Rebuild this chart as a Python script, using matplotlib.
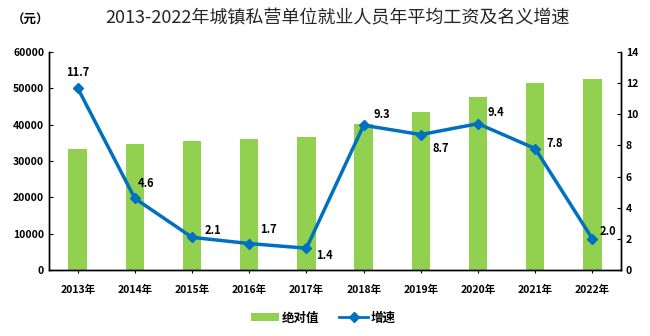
import matplotlib.pyplot as plt
from matplotlib.lines import Line2D
from matplotlib.patches import Patch

plt.rcParams['font.family'] = ['Noto Sans CJK SC', 'DejaVu Sans']

# data
years = ["2013年", "2014年", "2015年", "2016年", "2017年",
         "2018年", "2019年", "2020年", "2021年", "2022年"]
wages = [33300, 34700, 35500, 36050, 36600, 40200, 43500, 47600, 51450, 52550]
growth = [11.7, 4.6, 2.1, 1.7, 1.4, 9.3, 8.7, 9.4, 7.8, 2.0]

# label offsets in points (dx, dy) for each growth label
label_offsets = [(0, 11), (8, 11), (15, 5), (14, 10), (13, -5),
                 (13, 8), (14, -10), (13, 8), (14, 4), (11, 5)]

BAR_COLOR = "#92D050"
LINE_COLOR = "#0070C0"

fig = plt.figure(figsize=(6.5, 3.36), dpi=100)
ax = fig.add_axes([0.0754, 0.1964, 0.88, 0.6486])
ax2 = ax.twinx()

x = list(range(len(years)))
ax.bar(x, wages, width=0.32, color=BAR_COLOR, zorder=2)
ax.set_ylim(0, 60000)
ax.set_yticks(range(0, 60001, 10000))
ax.set_xlim(-0.5, len(years) - 0.5)
ax.set_xticks(x)
ax.set_xticklabels(years)

ax2.plot(x, growth, color=LINE_COLOR, linewidth=2.5, marker="D",
         markersize=5, zorder=3)
ax2.set_ylim(0, 14)
ax2.set_yticks(range(0, 15, 2))

for xi, g, (dx, dy) in zip(x, growth, label_offsets):
    ax2.annotate(f"{g:.1f}", (xi, g), xytext=(dx, dy),
                 textcoords="offset points", ha="center", va="center",
                 fontsize=8, fontweight="bold", color="black")

for a in (ax, ax2):
    a.spines["top"].set_visible(False)
    for s in ("left", "right", "bottom"):
        a.spines[s].set_color("black")
        a.spines[s].set_linewidth(1)
ax.tick_params(axis="y", direction="in", length=3, labelsize=7.5)
ax2.tick_params(axis="y", direction="in", length=3, labelsize=7.5)
ax.tick_params(axis="x", direction="out", length=2, labelsize=7.5, pad=9)
for lab in ax.get_yticklabels() + ax2.get_yticklabels() + ax.get_xticklabels():
    lab.set_fontweight("bold")

fig.text(0.52, 0.946, "2013-2022年城镇私营单位就业人员年平均工资及名义增速",
         ha="center", va="center", fontsize=13, color="#262626")
fig.text(0.018, 0.94, "（元）", ha="left", va="center", fontsize=9,
         fontweight="bold")

handles = [Patch(facecolor=BAR_COLOR, edgecolor="none"),
           Line2D([0], [0], color=LINE_COLOR, linewidth=2, marker="D",
                  markersize=5)]
fig.legend(handles, ["绝对值", "增速"], loc="center", bbox_to_anchor=(0.497, 0.054),
           ncol=2, frameon=False, prop={"size": 9, "weight": "bold"},
           handlelength=2.3, handleheight=0.6, handletextpad=0.2,
           columnspacing=1.6)

fig.savefig("out.png", dpi=100)
